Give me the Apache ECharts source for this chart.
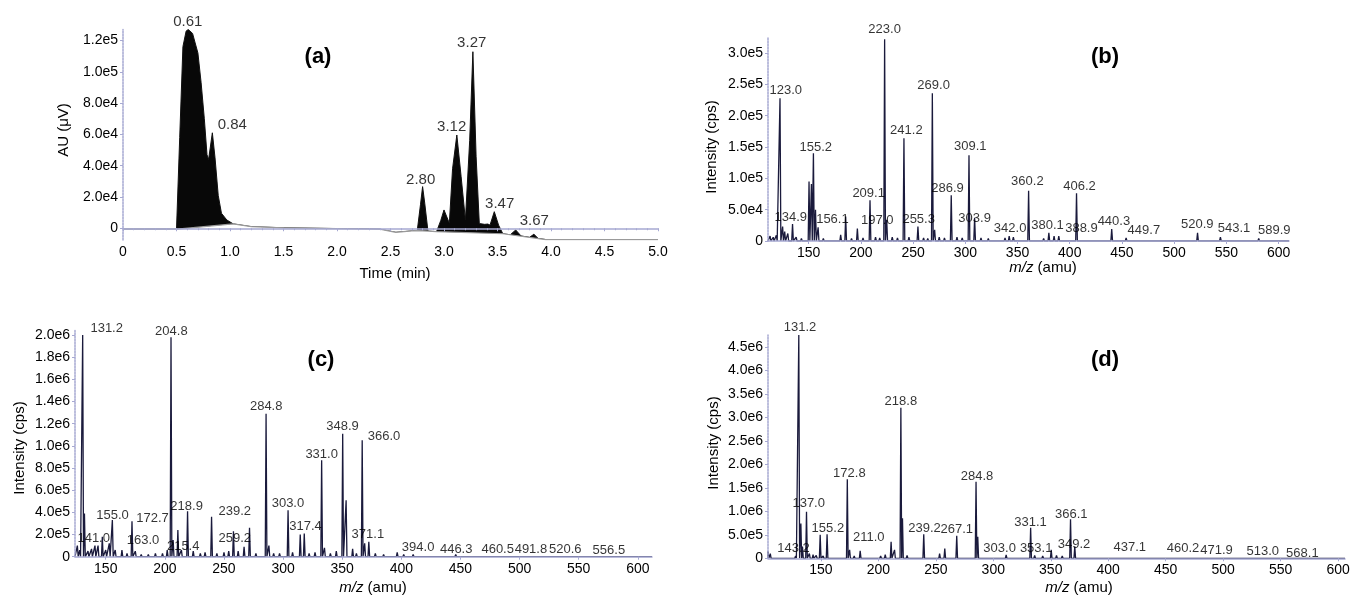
<!DOCTYPE html>
<html>
<head>
<meta charset="utf-8">
<script src="https://cdn.jsdelivr.net/npm/echarts@6/dist/echarts.min.js"></script>
<style>
html,body{margin:0;padding:0;background:#fff;}
#chart{width:1353px;height:599px;}
</style>
</head>
<body>
<div id="chart"></div>
<script>
//(a) 色谱图 时间/信号
var timeA = [0, 0.50, 0.505, 0.53, 0.56, 0.59, 0.61, 0.65, 0.70, 0.73, 0.76, 0.785, 0.80, 0.835, 0.86, 0.89, 0.92, 0.97, 1.03, 1.2, 1.5, 2.0, 2.4, 2.55, 2.7, 2.75, 2.78, 2.80, 2.82, 2.85, 2.93, 2.97, 3.00, 3.05, 3.08, 3.12, 3.16, 3.20, 3.24, 3.27, 3.30, 3.33, 3.38, 3.41, 3.43, 3.47, 3.51, 3.55, 3.62, 3.67, 3.72, 3.80, 3.84, 3.88, 3.95, 5.0];
var signalA = [-600, -600, -600, 58000, 116000, 126000, 127000, 124500, 112000, 93000, 70000, 47000, 44000, 61000, 45000, 21000, 9600, 5300, 2800, 1000, 300, -200, -600, -2600, -1700, -1500, 15000, 26600, 16000, -1800, -2200, 5000, 11700, 3200, 38000, 59600, 33000, 5300, 56000, 112800, 46000, 3000, 2500, 2700, 2000, 10600, 2000, -3500, -4150, -1100, -4900, -5800, -3800, -6500, -7200, -7200];
//积分基线
var baseTimeA = [0, 0.505, 1.03, 1.2, 1.5, 2.0, 2.4, 2.55, 2.7, 2.75, 2.85, 2.93, 3.55, 3.95, 5.0];
var baseA = [-600, -600, 2800, 1000, 300, -200, -600, -2600, -1700, -1500, -1800, -2200, -3500, -7200, -7200];
var tickYA = [0, 20000, 40000, 60000, 80000, 100000, 120000];
var lblTxtA = ['0.61', '0.84', '2.80', '3.12', '3.27', '3.47', '3.67'];
var lblXA = [0.605, 1.022, 2.782, 3.072, 3.259, 3.52, 3.844];
var lblYA = [132000, 66000, 30900, 64900, 118600, 15500, 4900];

//(b) 质谱
var mzB = [113, 116, 119, 122.5, 125, 127, 130, 134.5, 138, 143, 150.3, 152.6, 154.5, 156.5, 159, 164, 170, 180.6, 185.4, 191, 196.6, 202, 208.7, 214, 218, 222.7, 224.7, 230, 235, 241.2, 246, 254.6, 260, 264, 268.4, 270.6, 275, 280, 286.5, 292, 297, 303.5, 308.9, 315, 322, 330, 338, 342, 346, 355, 360.6, 368, 375, 380, 385, 389.5, 395, 406.5, 415, 425, 440.2, 454, 470, 490, 505, 515, 522.4, 530, 544.3, 560, 570, 581, 592, 600];
var intB = [8000, 6000, 9000, 228000, 23000, 15000, 12000, 27000, 6000, 4000, 95000, 91000, 140000, 50000, 22000, 4000, 3000, 10000, 39000, 4000, 20000, 5000, 65000, 6000, 5000, 322000, 34000, 6000, 5000, 164000, 6000, 23000, 5000, 4000, 236000, 18000, 6000, 5000, 73000, 6000, 5000, 137000, 37000, 5000, 4000, 3000, 5000, 8000, 6000, 3000, 80000, 3000, 4000, 13000, 8000, 8000, 3000, 76000, 3000, 2000, 19000, 5000, 2000, 2000, 3000, 3000, 13000, 3000, 6000, 2000, 2000, 4000, 2500, 2000];
var tickYB = [0, 50000, 100000, 150000, 200000, 250000, 300000];
var lblTxtB = ['223.0', '123.0', '269.0', '241.2', '155.2', '209.1', '134.9', '156.1', '197.0', '255.3', '286.9', '309.1', '303.9', '342.0', '360.2', '380.1', '388.9', '406.2', '440.3', '449.7', '520.9', '543.1', '589.9'];
var lblXB = [222.7, 128.0, 269.6, 243.5, 156.7, 207.4, 132.8, 172.7, 215.7, 255.3, 283.0, 304.7, 308.9, 342.9, 359.4, 378.7, 411.2, 409.3, 442.3, 471.0, 522.2, 557.3, 595.9];
var lblYB = [337000, 240000, 249000, 177000, 149000, 76700, 38300, 35100, 33500, 35100, 83500, 151000, 36700, 20800, 94700, 25600, 20800, 86700, 30800, 17600, 27100, 20800, 17600];

//(c) 质谱
var mzC = [126, 128, 130.5, 132, 135, 138, 140.9, 143.5, 147.1, 150, 153, 155.6, 158, 163.7, 168, 172.2, 175, 180, 186, 192, 198, 202, 205.2, 207, 211, 214, 219.2, 224, 230, 234, 239.5, 244, 250, 254, 258, 262, 267, 271.6, 277, 285.6, 288, 292, 297, 304.2, 308, 314.5, 317.9, 322, 327, 332.6, 335, 340, 345, 350.4, 353.3, 358.8, 362, 366.9, 369, 372.5, 378, 385, 396.5, 402, 410, 420, 432, 446, 455, 461, 475, 492, 505, 520, 535, 557, 575, 590];
var intC = [100000, 60000, 2000000, 390000, 50000, 70000, 100000, 100000, 180000, 60000, 120000, 330000, 60000, 60000, 30000, 320000, 50000, 20000, 20000, 30000, 30000, 60000, 1980000, 150000, 240000, 60000, 410000, 50000, 30000, 40000, 360000, 30000, 40000, 50000, 230000, 50000, 90000, 260000, 30000, 1290000, 100000, 30000, 30000, 420000, 40000, 200000, 210000, 30000, 40000, 870000, 80000, 30000, 50000, 1110000, 510000, 70000, 30000, 1050000, 120000, 135000, 30000, 20000, 40000, 20000, 20000, 15000, 10000, 20000, 10000, 15000, 10000, 15000, 10000, 15000, 10000, 10000, 8000, 6000];
var tickYC = [0, 200000, 400000, 600000, 800000, 1000000, 1200000, 1400000, 1600000, 1800000, 2000000];
var lblTxtC = ['131.2', '204.8', '284.8', '348.9', '366.0', '331.0', '218.9', '239.2', '303.0', '155.0', '172.7', '317.4', '371.1', '141.0', '259.2', '163.0', '215.4', '394.0', '446.3', '460.5', '491.8', '520.6', '556.5'];
var lblXC = [150.8, 205.5, 285.7, 350.3, 385.4, 332.6, 218.4, 259.1, 304.1, 155.7, 189.6, 319.0, 371.7, 139.8, 259.1, 181.5, 215.5, 414.2, 446.4, 481.5, 509.6, 538.7, 575.5];
var lblYC = [2060000, 2030000, 1353000, 1173000, 1083000, 926000, 457000, 406000, 482000, 376000, 346000, 277000, 202000, 166000, 166000, 144000, 90000, 81000, 69000, 69000, 69000, 69000, 54000];

//(d) 质谱
var mzD = [104, 106, 110, 118, 125, 128, 130.8, 132.6, 134, 137.5, 140, 143.2, 146, 149.4, 152, 155.4, 160, 165, 173, 175, 179, 184.2, 190, 196, 202, 206, 211.1, 214.1, 219.6, 221, 225, 231, 239.5, 245, 253.3, 257.8, 262, 268.2, 274, 279, 285, 286.5, 292, 298, 303, 311.2, 318, 324, 332.5, 336, 343, 350.4, 355, 360, 367.2, 370.9, 376, 385, 395, 405, 418, 430, 437, 450, 460, 472, 490, 513, 530, 550, 568, 585, 600];
var intD = [150000, 100000, 40000, 30000, 30000, 50000, 4750000, 740000, 250000, 990000, 100000, 80000, 60000, 500000, 50000, 510000, 40000, 30000, 1680000, 180000, 50000, 160000, 30000, 40000, 50000, 80000, 350000, 180000, 3200000, 850000, 60000, 40000, 510000, 40000, 100000, 210000, 40000, 480000, 40000, 40000, 1630000, 460000, 40000, 30000, 40000, 70000, 30000, 40000, 650000, 60000, 50000, 180000, 60000, 50000, 830000, 250000, 40000, 20000, 40000, 20000, 30000, 20000, 40000, 20000, 40000, 30000, 20000, 20000, 15000, 15000, 15000, 10000, 10000];
var tickYD = [0, 500000, 1000000, 1500000, 2000000, 2500000, 3000000, 3500000, 4000000, 4500000];
var lblTxtD = ['131.2', '218.8', '172.8', '284.8', '137.0', '366.1', '331.1', '155.2', '239.2', '267.1', '211.0', '349.2', '143.2', '303.0', '353.1', '437.1', '460.2', '471.9', '513.0', '568.1'];
var lblXD = [131.9, 219.6, 174.8, 285.8, 139.4, 367.9, 332.4, 156.1, 240.2, 268.2, 191.6, 370.2, 126.2, 305.5, 337.3, 418.8, 465.1, 494.2, 534.5, 568.9];
var lblYD = [4906000, 3330000, 1810000, 1750000, 1170000, 943000, 766000, 638000, 638000, 617000, 447000, 304000, 213000, 213000, 213000, 226000, 213000, 177000, 140000, 106000];

var tickMz = [150, 200, 250, 300, 350, 400, 450, 500, 550, 600];

var FONT = '"Liberation Sans", Arial, sans-serif';
var AXISCOLOR = '#a7a9d2';
var INK = '#1a1a3c';

// 指数格式的刻度
function expFmt(v){
	if(v == 0) return '0';
	return v.toExponential(1).replace('e+', 'e');
}

function pairs(xs, ys){
	var d = [];
	for(var i = 0; i < xs.length; i++){
		d.push([xs[i], ys[i]]);
	}
	return d;
}

// 棒状谱：每个峰画成细三角
function sticks(mz, h, w, x0, x1){
	var d = [[x0, 0]];
	for(var i = 0; i < mz.length; i++){
		d.push([mz[i] - w, 0]);
		d.push([mz[i], h[i]]);
		d.push([mz[i] + w, 0]);
	}
	d.push([x1, 0]);
	return d;
}

function labelSeries(idx, xs, ys, txt, size){
	var d = [];
	for(var i = 0; i < xs.length; i++){
		d.push([xs[i], ys[i], txt[i]]);
	}
	return {
		type: 'scatter',
		xAxisIndex: idx,
		yAxisIndex: idx,
		symbolSize: 1,
		itemStyle: {color: 'rgba(0,0,0,0)'},
		clip: false,
		silent: true,
		z: 8,
		data: d,
		label: {
			show: true,
			position: 'inside',
			formatter: function(p){ return p.data[2]; },
			color: '#000',
			textBorderWidth: 0,
			fontSize: size,
			fontFamily: FONT
		}
	};
}

function xAxisOf(idx, min, max, opts){
	var ax = {
		type: 'value',
		gridIndex: idx,
		min: min,
		max: max,
		z: 6,
		axisLine: {show: true, lineStyle: {color: AXISCOLOR, width: 1.5}},
		axisTick: {show: true, length: 3, lineStyle: {color: AXISCOLOR}},
		axisLabel: {color: '#000', fontSize: 14, fontFamily: FONT, margin: 5},
		splitLine: {show: false}
	};
	for(var k in opts){ ax[k] = opts[k]; }
	return ax;
}

function yAxisOf(idx, min, max, ticks){
	return {
		type: 'value',
		gridIndex: idx,
		min: min,
		max: max,
		z: 6,
		axisLine: {show: true, lineStyle: {color: AXISCOLOR, width: 1.5, type: [2, 1]}},
		axisTick: {show: true, length: 3, customValues: ticks, lineStyle: {color: AXISCOLOR}},
		axisLabel: {color: '#000', fontSize: 14, fontFamily: FONT, margin: 5, customValues: ticks, formatter: expFmt},
		splitLine: {show: false}
	};
}

function axisText(x, y, txt, rot){
	return {
		type: 'text',
		x: x,
		y: y,
		rotation: rot ? Math.PI / 2 : 0,
		style: {
			text: txt,
			font: '15px ' + FONT,
			fill: '#000',
			align: 'center',
			verticalAlign: 'middle',
			rich: {i: {fontStyle: 'italic', fontSize: 15, fontFamily: FONT}}
		}
	};
}

function panelText(x, y, txt){
	return {
		type: 'text',
		x: x,
		y: y,
		style: {text: txt, font: 'bold 22px ' + FONT, fill: '#000', align: 'center', verticalAlign: 'middle'}
	};
}

var myChart = echarts.init(document.getElementById('chart'));
var mzName = '{i|m/z} (amu)';

option = {
	backgroundColor: '#fff',
	animation: false,
	grid: [
		{left: 123, top: 29.5, width: 535, height: 210.5},
		{left: 768, top: 38, width: 521, height: 203},
		{left: 75, top: 330.6, width: 577, height: 226.1},
		{left: 768, top: 335, width: 577, height: 223.3}
	],
	xAxis: [
		xAxisOf(0, 0, 5, {interval: 0.5, axisLabel: {color: '#000', fontSize: 14, fontFamily: FONT, margin: 5,
			formatter: function(v){ return v == 0 ? '0' : v.toFixed(1); }},
			minorTick: {show: true, splitNumber: 5, length: 2, lineStyle: {color: AXISCOLOR}}}),
		xAxisOf(1, 111, 610, {axisLabel: {color: '#000', fontSize: 14, fontFamily: FONT, margin: 5, customValues: tickMz},
			axisTick: {show: true, length: 3, customValues: tickMz, lineStyle: {color: AXISCOLOR}}}),
		xAxisOf(2, 124, 612, {axisLabel: {color: '#000', fontSize: 14, fontFamily: FONT, margin: 5, customValues: tickMz},
			axisTick: {show: true, length: 3, customValues: tickMz, lineStyle: {color: AXISCOLOR}}}),
		xAxisOf(3, 104, 606, {axisLabel: {color: '#000', fontSize: 14, fontFamily: FONT, margin: 5, customValues: tickMz},
			axisTick: {show: true, length: 3, customValues: tickMz, lineStyle: {color: AXISCOLOR}}})
	],
	yAxis: [
		yAxisOf(0, -7500, 127000, tickYA),
		yAxisOf(1, 0, 324000, tickYB),
		yAxisOf(2, 0, 2040000, tickYC),
		yAxisOf(3, 0, 4750000, tickYD)
	],
	graphic: [
		panelText(318, 57, '(a)'),
		panelText(1105, 57, '(b)'),
		panelText(321, 360, '(c)'),
		panelText(1105, 360, '(d)'),
		axisText(64, 130, 'AU (μV)', true),
		axisText(395, 274, 'Time (min)'),
		axisText(712, 147, 'Intensity (cps)', true),
		axisText(1043, 268, mzName),
		axisText(20, 448, 'Intensity (cps)', true),
		axisText(373, 588, mzName),
		axisText(714, 443, 'Intensity (cps)', true),
		axisText(1079, 588, mzName)
	],
	series: [
		{
			name: 'signal',
			type: 'line',
			xAxisIndex: 0,
			yAxisIndex: 0,
			showSymbol: false,
			z: 2,
			data: pairs(timeA, signalA),
			lineStyle: {color: '#111', width: 1},
			areaStyle: {color: '#080808', opacity: 1, origin: 'start'}
		},
		{
			name: 'baseline',
			type: 'line',
			xAxisIndex: 0,
			yAxisIndex: 0,
			showSymbol: false,
			z: 3,
			data: pairs(baseTimeA, baseA),
			lineStyle: {color: '#9a9a9a', width: 1.2},
			areaStyle: {color: '#fff', opacity: 1, origin: 'start'}
		},
		{
			type: 'line', xAxisIndex: 1, yAxisIndex: 1, showSymbol: false, z: 3,
			data: sticks(mzB, intB, 0.8, 111, 610),
			lineStyle: {color: INK, width: 1.3}
		},
		{
			type: 'line', xAxisIndex: 2, yAxisIndex: 2, showSymbol: false, z: 3,
			data: sticks(mzC, intC, 0.7, 124, 612),
			lineStyle: {color: INK, width: 1.3}
		},
		{
			type: 'line', xAxisIndex: 3, yAxisIndex: 3, showSymbol: false, z: 3,
			data: sticks(mzD, intD, 0.7, 104, 606),
			lineStyle: {color: INK, width: 1.3}
		},
		labelSeries(0, lblXA, lblYA, lblTxtA, 15),
		labelSeries(1, lblXB, lblYB, lblTxtB, 13),
		labelSeries(2, lblXC, lblYC, lblTxtC, 13),
		labelSeries(3, lblXD, lblYD, lblTxtD, 13)
	]
};
myChart.setOption(option);
</script>
</body>
</html>
